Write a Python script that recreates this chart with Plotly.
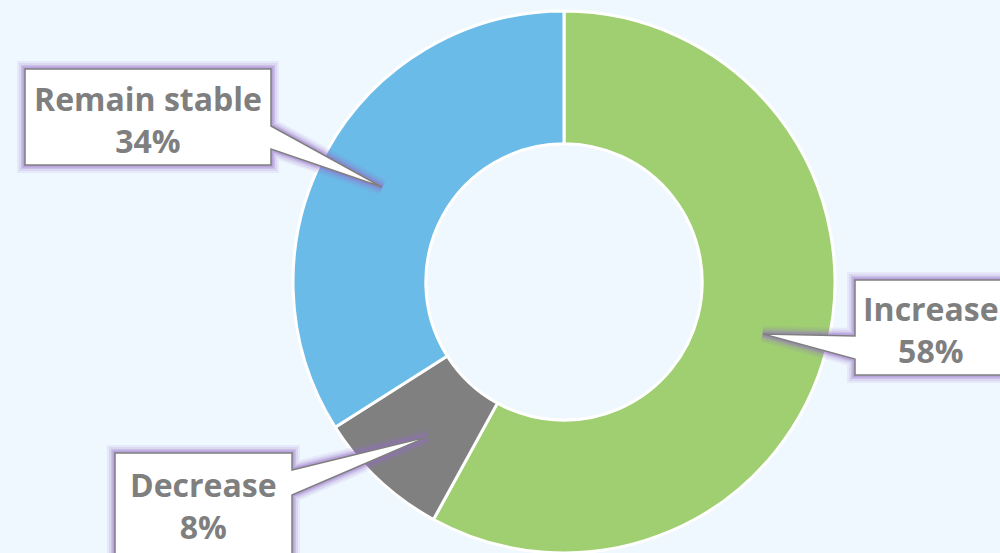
import plotly.graph_objects as go

# ---- data ----
labels = ["Increase", "Decrease", "Remain stable"]
values = [58, 8, 34]
colors = ["#A0CF71", "#808080", "#6ABBE8"]

W, H = 1000, 553

# ---- callout layout (pixel coords: box left, top, right, bottom, wedge base y0, y1, tip x, tip y, side) ----
callouts = {
    "Increase":      dict(box=(855, 280, 1010, 375), base=(336, 359), tip=(763, 334), side="left",
                          text_at=(931, 329)),
    "Decrease":      dict(box=(115, 453, 292, 560), base=(470, 495), tip=(427, 437), side="right",
                          text_at=(203, 505)),
    "Remain stable": dict(box=(25, 69, 271, 165), base=(126, 149), tip=(382, 187), side="right",
                          text_at=(148, 119)),
}


def px(x):
    return x / W


def py(y):
    return 1 - y / H


def callout_path(c):
    l, t, r, b = c["box"]
    y0, y1 = c["base"]
    tx, ty = c["tip"]
    if c["side"] == "right":
        pts = [(l, t), (r, t), (r, y0), (tx, ty), (r, y1), (r, b), (l, b)]
    else:
        pts = [(l, t), (r, t), (r, b), (l, b), (l, y1), (tx, ty), (l, y0)]
    return "M " + " L ".join(f"{px(x):.5f},{py(y):.5f}" for x, y in pts) + " Z"


fig = go.Figure(
    go.Pie(
        labels=labels,
        values=values,
        hole=0.51,
        sort=False,
        direction="clockwise",
        rotation=0,
        marker=dict(colors=colors, line=dict(color="white", width=3)),
        textinfo="none",
        hoverinfo="skip",
        showlegend=False,
        domain=dict(x=[0.292, 0.836], y=[0.0, 0.98]),
    )
)

shapes = []
annotations = []
for lab, val in zip(labels, values):
    c = callouts[lab]
    path = callout_path(c)
    # purple glow layers
    for w, op in [(16, 0.10), (12, 0.14), (8, 0.22), (5, 0.32)]:
        shapes.append(dict(type="path", path=path, xref="paper", yref="paper",
                           line=dict(color=f"rgba(150,110,200,{op})", width=w),
                           fillcolor="rgba(0,0,0,0)", layer="above"))
    shapes.append(dict(type="path", path=path, xref="paper", yref="paper",
                       line=dict(color="#7F7F7F", width=1.5),
                       fillcolor="white", layer="above"))
    cx, cy = c["text_at"]
    annotations.append(dict(
        x=px(cx), y=py(cy), xref="paper", yref="paper",
        text=f"<b>{lab}</b><br><b>{val}%</b>",
        showarrow=False, xanchor="center", yanchor="middle",
        font=dict(family="Open Sans", size=32, color="#7F7F7F"),
        align="center",
    ))

fig.update_layout(
    width=W, height=H,
    margin=dict(l=0, r=0, t=0, b=0),
    paper_bgcolor="#F0F8FF",
    plot_bgcolor="#F0F8FF",
    shapes=shapes,
    annotations=annotations,
)

fig.write_html(
    "out.html",
    config={"displayModeBar": False},
    post_script="document.body.style.margin='0';document.body.style.background='#F0F8FF';",
)
